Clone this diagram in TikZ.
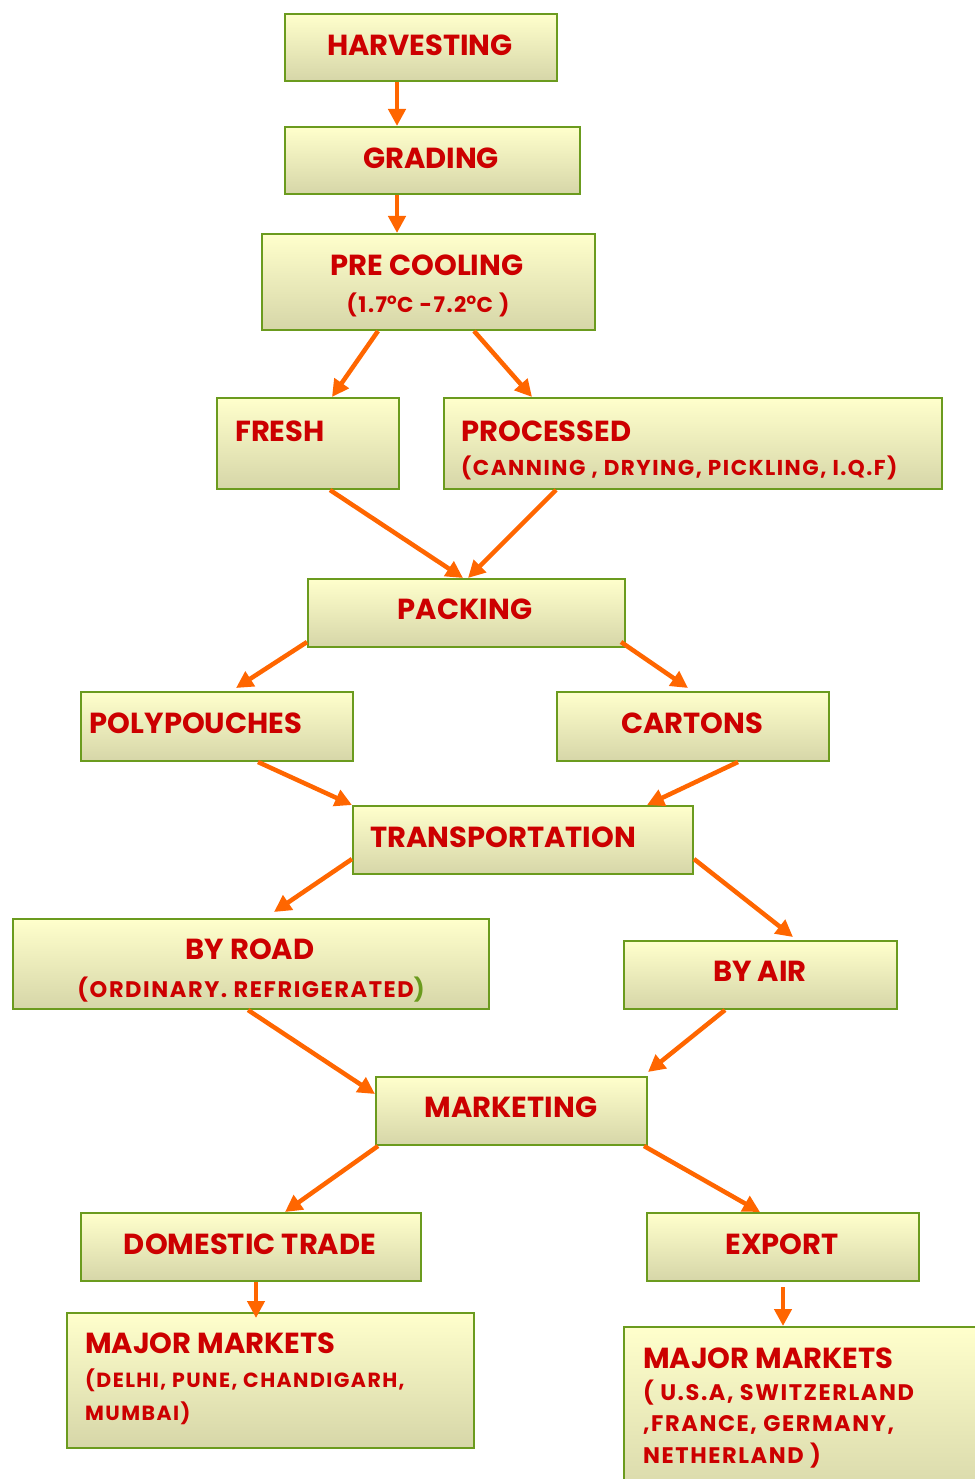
\documentclass[tikz,border=0pt]{standalone}
\usepackage{fontspec}
\setmainfont{Poppins}
\newfontfamily\subfont[LetterSpace=7]{Poppins}
\usetikzlibrary{arrows.meta,calc}
\definecolor{boxtop}{HTML}{FFFFCC}
\definecolor{boxbot}{HTML}{D6D6A8}
\definecolor{boxline}{HTML}{6B9B1E}
\definecolor{txtred}{HTML}{CC0000}
\definecolor{arrorange}{HTML}{FF6600}
\tikzset{
  box/.style={draw=boxline, line width=2pt, top color=boxtop, bottom color=boxbot,
    anchor=north west, inner sep=0pt, rectangle},
  lbl/.style={text=txtred, font=\fontsize{29}{29}\selectfont\bfseries, inner sep=0pt, anchor=base},
  lbll/.style={lbl, anchor=base west},
  sub/.style={text=txtred, font=\subfont\fontsize{21.5}{21.5}\selectfont\bfseries, inner sep=0pt, anchor=base},
  subl/.style={sub, anchor=base west},
  subsm/.style={text=txtred, font=\subfont\fontsize{20.5}{20.5}\selectfont\bfseries, inner sep=0pt, anchor=base west},
  subbig/.style={text=txtred, font=\subfont\fontsize{22.5}{22.5}\selectfont\bfseries, inner sep=0pt, anchor=base west},
  flow/.style={draw=arrorange, line width=4.5pt, -{Triangle[length=17pt,width=17pt]}}
}
\begin{document}
\begin{tikzpicture}[x=1pt,y=-1pt]
\useasboundingbox[fill=white] (0,0) rectangle (974,1479);
% boxes
\node[box, minimum width=272, minimum height=67] (harv) at (284,13) {};
\node[box, minimum width=295, minimum height=67] (grad) at (284,126) {};
\node[box, minimum width=333, minimum height=96] (pre) at (261,233) {};
\node[box, minimum width=182, minimum height=91] (fresh) at (216,397) {};
\node[box, minimum width=498, minimum height=91] (proc) at (443,397) {};
\node[box, minimum width=317, minimum height=68] (pack) at (307,578) {};
\node[box, minimum width=272, minimum height=69] (poly) at (80,691) {};
\node[box, minimum width=272, minimum height=69] (cart) at (556,691) {};
\node[box, minimum width=340, minimum height=68] (trans) at (352,805) {};
\node[box, minimum width=476, minimum height=90] (road) at (12,918) {};
\node[box, minimum width=273, minimum height=68] (air) at (623,940) {};
\node[box, minimum width=271, minimum height=68] (mark) at (375,1076) {};
\node[box, minimum width=340, minimum height=68] (dom) at (80,1212) {};
\node[box, minimum width=272, minimum height=68] (exp) at (646,1212) {};
\node[box, minimum width=407, minimum height=135] (mm1) at (66,1312) {};
\node[box, minimum width=380, minimum height=180] (mm2) at (623,1326) {};
% texts
\node[lbl] (harv-t) at (420,56) {HARVESTING};
\node[lbl] (grad-t) at (431,169) {GRADING};
\node[lbl] (pre-t) at (427,276) {PRE COOLING};
\node[sub] (pre-s) at (428,312) {(1.7\textsuperscript{o}C -7.2\textsuperscript{o}C )};
\node[lbll] (fresh-t) at (235,441) {FRESH};
\node[lbll] (proc-t) at (461,441) {PROCESSED};
\node[subl] (proc-s) at (461,475) {(CANNING , DRYING, PICKLING, I.Q.F)};
\node[lbl] (pack-t) at (465,619) {PACKING};
\node[lbl] (poly-t) at (196,733) {POLYPOUCHES};
\node[lbl] (cart-t) at (692,733) {CARTONS};
\node[lbl] (trans-t) at (503,847) {TRANSPORTATION};
\node[lbl] (road-t) at (250,959) {BY ROAD};
\node[subbig, anchor=base] (road-s) at (251,997) {(ORDINARY. REFRIGERATED\textcolor{boxline}{)}};
\node[lbl] (air-t) at (760,981) {BY AIR};
\node[lbl] (mark-t) at (511,1117) {MARKETING};
\node[lbl] (dom-t) at (250,1254) {DOMESTIC TRADE};
\node[lbl] (exp-t) at (782,1254) {EXPORT};
\node[lbll] (mm1-t) at (85,1353) {MAJOR MARKETS};
\node[subsm] (mm1-a) at (85,1387) {(DELHI, PUNE, CHANDIGARH,};
\node[subsm] (mm1-b) at (85,1420) {MUMBAI)};
\node[lbll] (mm2-t) at (643,1368) {MAJOR MARKETS};
\node[subbig] (mm2-a) at (643,1400) {( U.S.A, SWITZERLAND};
\node[subbig] (mm2-b) at (643,1431) {,FRANCE, GERMANY,};
\node[subbig] (mm2-c) at (643,1463) {NETHERLAND )};
% connectors
\draw[flow] ([xshift=113]harv.south west) -- ([xshift=113]grad.north west);
\draw[flow] ([xshift=113]grad.south west) -- ([xshift=136]pre.north west);
\draw[flow] ([xshift=117]pre.south west) -- ([xshift=116]fresh.north west);
\draw[flow] ([xshift=213]pre.south west) -- ([xshift=89]proc.north west);
\draw[flow] ([xshift=114]fresh.south west) -- ([xshift=156]pack.north west);
\draw[flow] ([xshift=113]proc.south west) -- ([xshift=161]pack.north west);
\draw[flow] ([yshift=6]pack.south west) -- ([xshift=156,yshift=3]poly.north west);
\draw[flow] ([xshift=-5,yshift=6]pack.south east) -- ([xshift=132,yshift=3]cart.north west);
\draw[flow] ([xshift=178]poly.south west) -- (trans.north west);
\draw[flow] ([xshift=182]cart.south west) -- ([xshift=-47]trans.north east);
\draw[flow] ([yshift=16]trans.south west) -- ([xshift=262,yshift=6]road.north west);
\draw[flow] ([yshift=16]trans.south east) -- ([xshift=170,yshift=3]air.north west);
\draw[flow] ([xshift=236]road.south west) -- ([yshift=-18]mark.north west);
\draw[flow] ([xshift=102]air.south west) -- ([yshift=4]mark.north east);
\draw[flow] ([xshift=3]mark.south west) -- ([xshift=205]dom.north west);
\draw[flow] ([xshift=-4]mark.south east) -- ([xshift=114]exp.north west);
\draw[flow] ([xshift=176]dom.south west) -- ([xshift=190,yshift=-6]mm1.north west);
\draw[flow] ([xshift=137,yshift=-5]exp.south west) -- ([xshift=160]mm2.north west);
\end{tikzpicture}
\end{document}
